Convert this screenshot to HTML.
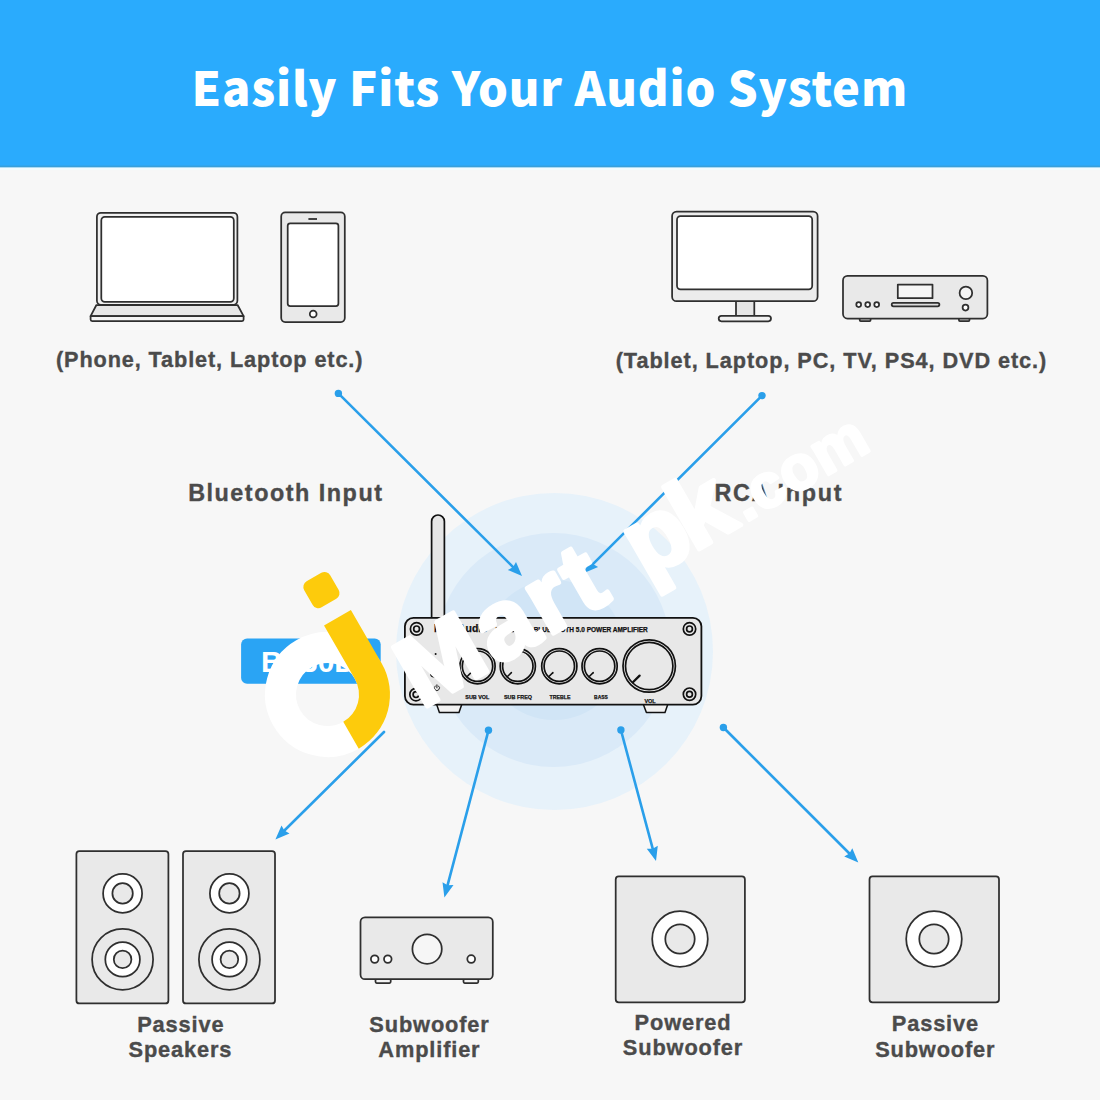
<!DOCTYPE html>
<html lang="en">
<head>
<meta charset="utf-8">
<title>Easily Fits Your Audio System</title>
<style>
html,body{margin:0;padding:0;background:#f7f7f7;}
body{width:1100px;height:1100px;overflow:hidden;position:relative;font-family:"Liberation Sans",sans-serif;}
svg{position:absolute;left:0;top:0;display:block;}
.lbl{font-family:"Liberation Sans",sans-serif;font-weight:700;fill:#4b4b4b;stroke:#4b4b4b;stroke-width:0.35px;}
.s{stroke:#2f2f2f;stroke-width:1.75;stroke-linejoin:round;stroke-linecap:round;}
.g{fill:#e9e9e9;}
.w{fill:#ffffff;}
.ar{stroke:#2a9fea;stroke-width:2.6;stroke-linecap:round;fill:none;}
.ah{fill:#2a9fea;}
.wt{font-family:"Liberation Sans",sans-serif;font-weight:700;fill:#ffffff;stroke:#ffffff;stroke-width:4.5px;stroke-linejoin:round;}
.k{fill:none;stroke:#111;stroke-width:1.7;}
.kt{stroke:#111;stroke-linecap:round;}
.at{font-family:"Liberation Sans",sans-serif;font-weight:700;fill:#111;stroke:#111;stroke-width:0.25px;}
.hd{font-family:"Noto Sans CJK SC","Liberation Sans",sans-serif;font-weight:900;fill:#fff;font-size:47px;letter-spacing:0.8px;}
</style>
</head>
<body>
<svg width="1100" height="1100" viewBox="0 0 1100 1100">
<!-- BG -->
<rect x="0" y="0" width="1100" height="1100" fill="#f7f7f7"/>
<!-- HEADER -->
<rect x="0" y="0" width="1100" height="167.5" fill="#2aabfd"/>
<rect x="0" y="165.6" width="1100" height="1.9" fill="#37a0da"/>
<rect x="0" y="167.5" width="1100" height="2.6" fill="#f1fdff"/>
<text class="hd" x="191.6" y="106.4">Easily Fits Your Audio System</text>
<!-- GLOW -->
<circle cx="554.5" cy="651.5" r="158.5" fill="#e7f2fa"/>
<circle cx="553.5" cy="650" r="117" fill="#daeaf8"/>
<circle cx="554" cy="650" r="70" fill="#d1e5f6"/>
<!-- ICONS-TOP -->
<g id="laptop">
<rect class="s" x="96.9" y="212.8" width="140.5" height="92" rx="4" fill="#f1f1f1"/>
<rect class="s w" x="101.3" y="216.9" width="132.5" height="84.9" rx="3.5"/>
<path class="s" d="M96.4 305 L237.6 305 L243.6 316.2 L90.6 316.2 Z" fill="#e7e7e7"/>
<path class="s" d="M90.6 316.2 L243.6 316.2 L243.6 319.5 Q243.6 321 242 321 L92.2 321 Q90.6 321 90.6 319.5 Z" fill="#f3f3f3"/>
</g>
<g id="phone">
<rect class="s g" x="281.2" y="212.4" width="63.6" height="109.7" rx="4" stroke-width="1.6"/>
<rect class="s w" x="287.7" y="223.3" width="50.7" height="82.8" rx="2.5" stroke-width="1.6"/>
<line x1="308.4" y1="219" x2="317" y2="219" stroke="#2f2f2f" stroke-width="1.8"/>
<circle class="s w" cx="313.2" cy="313.9" r="3.4"/>
</g>
<g id="tv">
<rect class="s" x="736" y="300" width="18.3" height="16" fill="#e6e6e6"/>
<rect class="s" x="672.1" y="211.6" width="145.5" height="89.6" rx="4.5" fill="#ececec"/>
<rect class="s w" x="677" y="216.2" width="135.2" height="73.1" rx="3.5"/>
<rect class="s" x="718.7" y="315.9" width="52.3" height="5.4" rx="2.7" fill="#f1f1f1"/>
</g>
<g id="dvd">
<rect class="s" x="859.7" y="317" width="10.9" height="4" rx="1" fill="#ddd"/>
<rect class="s" x="958.9" y="317" width="10.6" height="4" rx="1" fill="#ddd"/>
<rect class="s g" x="843" y="275.9" width="144.4" height="42.6" rx="4.5"/>
<rect class="s" x="897.8" y="284.6" width="34.7" height="13.6" fill="#f6f6f6"/>
<rect class="s" x="891.7" y="302.9" width="47.7" height="3.4" rx="1.7" fill="#dcdcdc"/>
<circle class="s w" cx="858.7" cy="304.6" r="2.4"/>
<circle class="s w" cx="867.7" cy="304.6" r="2.4"/>
<circle class="s w" cx="876.7" cy="304.6" r="2.4"/>
<circle class="s" cx="965.9" cy="292.9" r="6.3" fill="#f4f4f4"/>
<circle class="s w" cx="965.5" cy="307.6" r="2.9"/>
</g>
<!-- LABELS-TOP -->
<text class="lbl" x="56" y="367.3" font-size="21.7" letter-spacing="0.88">(Phone, Tablet, Laptop etc.)</text>
<text class="lbl" x="615.7" y="367.5" font-size="21.7" letter-spacing="0.93">(Tablet, Laptop, PC, TV, PS4, DVD etc.)</text>
<text class="lbl" x="188.2" y="500.7" font-size="23.4" letter-spacing="1.5">Bluetooth Input</text>
<text class="lbl" x="714.4" y="500.6" font-size="23.4" letter-spacing="1.7">RCA Input</text>
<!-- ARROWS -->
<circle class="ah" cx="338.4" cy="393.4" r="3.7"/><line class="ar" x1="338.4" y1="393.4" x2="513.1" y2="567.1"/><path class="ah" d="M522.0 576.0 L507.9 570.0 L513.1 567.1 L516.0 561.9 Z"/>
<circle class="ah" cx="762.0" cy="395.6" r="3.7"/><line class="ar" x1="762.0" y1="395.6" x2="592.9" y2="564.1"/><path class="ah" d="M584.0 573.0 L590.0 558.9 L592.9 564.1 L598.1 567.0 Z"/>
<line class="ar" x1="384.0" y1="732.0" x2="284.4" y2="830.5"/><path class="ah" d="M275.4 839.4 L281.5 825.4 L284.4 830.5 L289.5 833.5 Z"/>
<circle class="ah" cx="488.5" cy="730.3" r="3.7"/><line class="ar" x1="488.5" y1="730.3" x2="447.6" y2="885.2"/><path class="ah" d="M444.4 897.4 L442.5 882.2 L447.6 885.2 L453.5 885.1 Z"/>
<circle class="ah" cx="620.9" cy="730.0" r="3.7"/><line class="ar" x1="620.9" y1="730.0" x2="652.7" y2="848.7"/><path class="ah" d="M656.0 860.9 L646.8 848.7 L652.7 848.7 L657.8 845.7 Z"/>
<circle class="ah" cx="723.4" cy="727.5" r="3.7"/><line class="ar" x1="723.4" y1="727.5" x2="849.4" y2="853.5"/><path class="ah" d="M858.3 862.4 L844.2 856.4 L849.4 853.5 L852.3 848.3 Z"/>
<!-- AMP -->
<g id="amp">
<path d="M431.6 620 L431.6 521.4 A6.4 6.4 0 0 1 444.4 521.4 L444.4 620 Z" fill="#e6e6e6" stroke="#111" stroke-width="1.7"/>
<path d="M436.5 704 L461.9 704 L459 712.5 L439.4 712.5 Z" fill="#f2f2f2" stroke="#111" stroke-width="1.5" stroke-linejoin="round"/>
<path d="M643.2 704 L667.9 704 L665 712.5 L646.4 712.5 Z" fill="#f2f2f2" stroke="#111" stroke-width="1.5" stroke-linejoin="round"/>
<rect x="404.9" y="617.8" width="296.5" height="86.8" rx="8.5" fill="#e8e8e8" stroke="#111" stroke-width="1.8"/>
<circle class="k" cx="416.6" cy="628.9" r="6.2"/><circle cx="416.6" cy="628.9" r="2.9" fill="#e8e8e8" stroke="#111" stroke-width="1.7"/><circle class="k" cx="416.0" cy="694.6" r="6.2"/><circle cx="416.0" cy="694.6" r="2.9" fill="#e8e8e8" stroke="#111" stroke-width="1.7"/><circle class="k" cx="689.5" cy="628.9" r="6.2"/><circle cx="689.5" cy="628.9" r="2.9" fill="#e8e8e8" stroke="#111" stroke-width="1.7"/><circle class="k" cx="689.5" cy="694.2" r="6.2"/><circle cx="689.5" cy="694.2" r="2.9" fill="#e8e8e8" stroke="#111" stroke-width="1.7"/>
<text class="at" x="434" y="631.8" font-size="10.4" textLength="53.6" lengthAdjust="spacingAndGlyphs">Fosi Audio</text>
<text class="at" x="495.4" y="631.8" font-size="6.6" textLength="152.4" lengthAdjust="spacingAndGlyphs">BT30D PRO BLUETOOTH 5.0 POWER AMPLIFIER</text>
<line x1="413" y1="654.4" x2="420" y2="654.4" stroke="#111" stroke-width="1"/>
<circle cx="435.6" cy="654" r="1" fill="#111"/>
<circle cx="434" cy="673.6" r="3.4" fill="none" stroke="#111" stroke-width="1.2"/>
<circle cx="434" cy="673.6" r="1.6" fill="none" stroke="#111" stroke-width="0.9"/>
<path d="M435.3 685.9 A2.6 2.6 0 1 0 438.5 685.9 M436.9 684.8 L436.9 687.8" fill="none" stroke="#111" stroke-width="0.9" stroke-linecap="round"/>
<circle class="k" cx="477.5" cy="666.2" r="17.6"/><circle class="k" cx="477.5" cy="666.2" r="15.2"/><line class="kt" x1="471.1" y1="672.6" x2="466.9" y2="676.8" stroke-width="1.5"/><circle class="k" cx="517.8" cy="666.2" r="17.6"/><circle class="k" cx="517.8" cy="666.2" r="15.2"/><line class="kt" x1="511.4" y1="672.6" x2="507.2" y2="676.8" stroke-width="1.5"/><circle class="k" cx="559.3" cy="666.2" r="17.6"/><circle class="k" cx="559.3" cy="666.2" r="15.2"/><line class="kt" x1="552.9" y1="672.6" x2="548.7" y2="676.8" stroke-width="1.5"/><circle class="k" cx="599.6" cy="666.2" r="17.6"/><circle class="k" cx="599.6" cy="666.2" r="15.2"/><line class="kt" x1="593.2" y1="672.6" x2="589.0" y2="676.8" stroke-width="1.5"/><circle class="k" cx="649.2" cy="666.0" r="26.2"/><circle class="k" cx="649.2" cy="666.0" r="23.7"/><line class="kt" x1="639.6" y1="675.6" x2="632.9" y2="682.3" stroke-width="2.3"/>
<g class="at" font-size="6.1" text-anchor="middle" lengthAdjust="spacingAndGlyphs">
<text x="477.3" y="699" textLength="24" lengthAdjust="spacingAndGlyphs">SUB VOL</text>
<text x="518" y="699" textLength="28" lengthAdjust="spacingAndGlyphs">SUB FREQ</text>
<text x="560" y="699" textLength="21" lengthAdjust="spacingAndGlyphs">TREBLE</text>
<text x="601" y="699" textLength="13.8" lengthAdjust="spacingAndGlyphs">BASS</text>
<text x="650" y="702.8" textLength="11.2" lengthAdjust="spacingAndGlyphs">VOL</text>
</g>
</g>
<g id="badge">
<rect x="241.1" y="638.5" width="139.6" height="45.2" rx="6" fill="#2aa4f4"/>
<text x="261" y="671.8" font-size="30" font-family="&quot;Liberation Sans&quot;,sans-serif" font-weight="700" fill="#fff">BT30D</text>
</g>
<!-- ICONS-BOTTOM -->
<g id="spk1">
<rect class="s g" x="76.4" y="851" width="92" height="152.4" rx="3"/>
<circle class="s w" cx="122.6" cy="893.4" r="19.5"/>
<circle class="s g" cx="122.6" cy="893.4" r="10.2"/>
<circle class="s g" cx="122.6" cy="959.4" r="30.5"/>
<circle class="s w" cx="122.6" cy="959.4" r="17.3"/>
<circle class="s g" cx="122.6" cy="959.4" r="8.8"/>
</g>
<g id="spk2">
<rect class="s g" x="183" y="851" width="92" height="152.4" rx="3"/>
<circle class="s w" cx="229.4" cy="893.4" r="19.5"/>
<circle class="s g" cx="229.4" cy="893.4" r="10.2"/>
<circle class="s g" cx="229.4" cy="959.4" r="30.5"/>
<circle class="s w" cx="229.4" cy="959.4" r="17.3"/>
<circle class="s g" cx="229.4" cy="959.4" r="8.8"/>
</g>
<g id="subamp">
<rect class="s" x="375.5" y="978" width="15.2" height="5" rx="1.2" fill="#f3f3f3"/>
<rect class="s" x="463.5" y="978" width="14.8" height="5" rx="1.2" fill="#f3f3f3"/>
<rect class="s g" x="360.5" y="917.4" width="132.3" height="61.8" rx="4.5"/>
<circle class="s" cx="427.1" cy="949.1" r="14.7" fill="#f6f6f6"/>
<circle class="s w" cx="374.7" cy="959.1" r="3.8"/>
<circle class="s w" cx="387.8" cy="959.1" r="3.8"/>
<circle class="s w" cx="471.2" cy="959.1" r="3.9"/>
</g>
<g id="sub1">
<rect class="s g" x="615.7" y="876.4" width="129.2" height="125.9" rx="3"/>
<circle class="s w" cx="680" cy="939" r="27.8"/>
<circle class="s g" cx="680" cy="939" r="14.7"/>
</g>
<g id="sub2">
<rect class="s g" x="869.5" y="876.4" width="129.5" height="125.9" rx="3"/>
<circle class="s w" cx="934" cy="939" r="27.8"/>
<circle class="s g" cx="934" cy="939" r="14.7"/>
</g>
<!-- LABELS-BOTTOM -->
<g class="lbl" font-size="21.8" letter-spacing="0.85" text-anchor="middle">
<text x="180.8" y="1031.6">Passive</text>
<text x="180.4" y="1057.2">Speakers</text>
<text x="429.5" y="1031.8">Subwoofer</text>
<text x="429.4" y="1057.4">Amplifier</text>
<text x="683" y="1029.7">Powered</text>
<text x="683" y="1055.3">Subwoofer</text>
<text x="935.4" y="1031.3">Passive</text>
<text x="935.3" y="1057">Subwoofer</text>
</g>
<!-- WATERMARK -->
<g id="wm" transform="translate(327.5 694.5) rotate(-30)">
<circle cx="0" cy="0" r="47" fill="none" stroke="#ffffff" stroke-width="31"/>
<path d="M31.5 0 A31.5 31.5 0 0 1 0 31.5 L0 62.5 A62.5 62.5 0 0 0 62.5 0 L62.5 -61.5 L31.5 -61.5 Z" fill="#fdcb0c"/>
<rect x="32" y="-108.5" width="30" height="30" rx="6.5" fill="#fdcb0c"/>
<g class="wt">
<text x="74" y="60" font-size="99" letter-spacing="4">Mart</text>
<text y="60" font-size="99"><tspan x="333">p</tspan><tspan x="387.7">k</tspan></text>
<text x="448" y="60" font-size="62" stroke-width="3" letter-spacing="0.65">.com</text>
</g>
</g>
</svg>
</body>
</html>
